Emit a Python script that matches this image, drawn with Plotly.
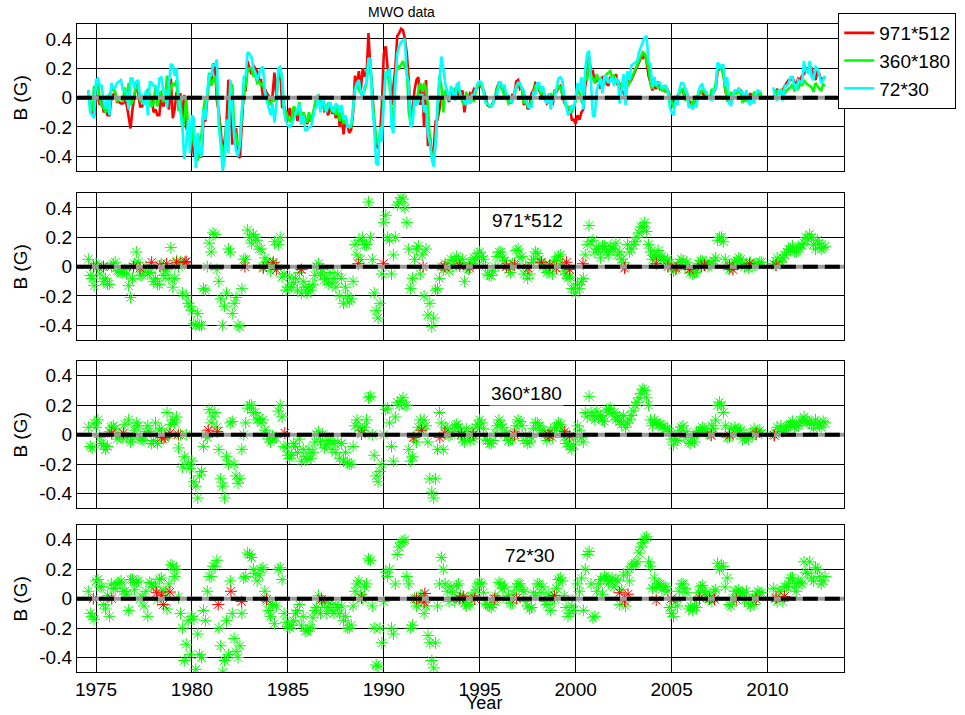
import plotly.graph_objects as go

# ---------------- data ----------------
# readings at t = 1974.6, 1974.8, 1975.0, ... 2013.0 (step 0.2)
years_a = [round(1974.6 + 0.2 * i, 1) for i in range(193)]
# readings at t = 1974.7, 1974.9, 1975.1, ... 2012.9 (step 0.2)
years_b = [round(1974.7 + 0.2 * i, 1) for i in range(192)]

b_971_a = [
    0.05, -0.08,
    0.02, -0.05, -0.10, -0.12, 0.00,
    0.03, -0.03, -0.04, -0.05, -0.21,
    0.02, 0.03, -0.06, 0.00, -0.04,
    -0.10, -0.12, 0.02, -0.03, -0.08,
    -0.14, 0.04, 0.03, 0.02, -0.25,
    -0.30, -0.40, -0.40, -0.15, 0.00,
    0.10, 0.22, -0.10, -0.40, -0.18,
    0.10, -0.25, -0.40, -0.15, 0.05,
    0.20, 0.22, 0.18, 0.12, 0.06,
    0.01, 0.02, 0.01, 0.20, -0.05,
    -0.14, -0.14, -0.08, -0.04, -0.10,
    -0.18, -0.16, -0.06, 0.02, -0.02,
    -0.08, -0.04, -0.08, -0.05, -0.08,
    -0.14, -0.24, -0.10, 0.08, 0.05,
    0.15, 0.44, 0.05, -0.30, -0.25,
    0.30, 0.20, -0.05, 0.20, 0.44,
    0.46, 0.30, -0.15, 0.05, 0.14,
    0.08, 0.12, -0.25, -0.35, -0.15,
    0.00, 0.02, -0.03, 0.00, 0.07,
    0.02, -0.10, -0.02, 0.02, 0.05,
    0.10, 0.05, -0.05, -0.06, 0.00,
    0.10, 0.06, 0.02, -0.04, 0.02,
    0.12, 0.07, 0.00, -0.05, 0.05,
    0.09, 0.02, 0.01, -0.03, -0.05,
    0.04, 0.08, -0.03, -0.08, -0.15,
    -0.18, -0.15, -0.08, 0.15, 0.17,
    0.10, 0.12, 0.14, 0.10, 0.14,
    0.12, 0.08, 0.05, 0.00, 0.10,
    0.15, 0.20, 0.27, 0.30, 0.15,
    0.05, 0.06, 0.06, 0.05, 0.05,
    0.00, -0.02, 0.03, 0.04, 0.03,
    -0.04, -0.04, 0.02, 0.04, 0.03,
    0.01, 0.04, 0.18, 0.20, 0.05,
    -0.02, 0.01, 0.04, 0.05, 0.00,
    -0.01, 0.00, 0.02, 0.03, None,
    None, None, 0.01, 0.04, 0.06,
    0.10, 0.12, 0.10, 0.13, 0.15,
    0.20, 0.22, 0.15, 0.18, 0.12,
    0.14,
]
b_971_b = [
    -0.06, -0.13,
    0.00, 0.00, -0.08, -0.12, 0.02,
    -0.03, -0.04, -0.02, -0.13, -0.08,
    0.10, -0.06, -0.03, -0.05, -0.01,
    -0.08, -0.12, -0.06, -0.02, 0.13,
    -0.08, 0.00, -0.18, -0.20, -0.27,
    -0.39, -0.32, -0.40, -0.16, 0.16,
    0.23, -0.02, -0.22, -0.27, 0.12,
    -0.32, -0.21, -0.41, 0.05, 0.25,
    0.16, 0.20, 0.12, 0.00, 0.03,
    -0.03, 0.17, 0.15, -0.07, -0.16,
    -0.07, -0.11, -0.16, -0.18, -0.14,
    -0.14, -0.12, 0.00, -0.05, -0.09,
    -0.12, -0.11, -0.14, -0.20, -0.25,
    -0.20, -0.22, 0.15, 0.18, 0.20,
    0.15, 0.20, -0.18, -0.35, -0.05,
    0.35, 0.18, 0.08, 0.42, 0.47,
    0.40, 0.12, -0.08, 0.12, -0.05,
    -0.20, -0.33, -0.41, -0.16, -0.08,
    -0.02, 0.01, 0.05, 0.04, 0.02,
    0.05, -0.01, 0.03, 0.06, 0.09,
    0.07, 0.00, -0.06, -0.03, 0.07,
    0.10, 0.04, -0.02, 0.02, 0.11,
    0.06, -0.05, -0.08, 0.03, 0.10,
    0.05, 0.00, -0.04, 0.01, 0.04,
    0.07, 0.02, -0.05, -0.07, -0.15,
    -0.12, -0.10, 0.08, 0.28, 0.18,
    0.12, 0.06, 0.14, 0.08, 0.12,
    0.16, 0.10, 0.03, 0.15, 0.12,
    0.17, 0.23, 0.27, 0.24, 0.10,
    0.08, 0.11, 0.07, 0.04, 0.02,
    -0.03, 0.01, 0.05, 0.00, -0.02,
    -0.05, -0.03, 0.04, 0.01, 0.00,
    0.02, 0.06, 0.20, 0.17, 0.00,
    -0.01, 0.03, 0.06, 0.02, 0.01,
    0.03, 0.01, 0.02, 0.03, None,
    None, 0.02, 0.06, 0.03, 0.08,
    0.12, 0.14, 0.10, 0.12, 0.16,
    0.19, 0.20, 0.12, 0.16, 0.13,
]

b_360_a = [
    0.05, -0.09,
    0.05, -0.02, -0.07, -0.08, 0.05,
    0.04, 0.00, -0.02, -0.02, -0.05,
    0.03, 0.06, -0.03, 0.02, 0.02,
    -0.04, -0.06, 0.04, -0.01, 0.00,
    0.10, 0.12, 0.00, -0.15, -0.20,
    -0.18, -0.35, -0.28, -0.08, -0.02,
    0.08, 0.15, -0.10, -0.35, -0.15,
    0.08, -0.20, -0.33, -0.10, 0.08,
    0.20, 0.15, 0.10, 0.08, 0.03,
    -0.03, -0.01, -0.02, 0.20, -0.08,
    -0.14, -0.14, -0.08, -0.03, -0.10,
    -0.17, -0.16, -0.05, 0.02, 0.00,
    -0.07, -0.04, -0.06, -0.05, -0.06,
    -0.12, -0.20, -0.08, 0.10, 0.03,
    0.05, 0.25, 0.00, -0.28, -0.25,
    0.00, 0.18, -0.08, 0.12, 0.20,
    0.25, 0.20, -0.18, -0.02, 0.05,
    0.04, 0.06, -0.30, -0.43, -0.10,
    0.08, 0.05, -0.01, 0.02, 0.07,
    0.02, -0.05, -0.01, 0.02, 0.05,
    0.10, 0.04, -0.04, -0.06, 0.01,
    0.10, 0.05, 0.01, -0.03, 0.02,
    0.10, 0.06, 0.00, -0.05, 0.04,
    0.08, 0.03, 0.00, 0.00, -0.02,
    0.05, 0.07, -0.02, -0.06, -0.10,
    -0.02, 0.03, -0.05, 0.12, 0.15,
    0.10, 0.12, 0.10, 0.16, 0.18,
    0.15, 0.12, 0.07, 0.05, 0.10,
    0.16, 0.22, 0.28, 0.30, 0.20,
    0.06, 0.08, 0.07, 0.06, 0.04,
    -0.03, -0.03, 0.03, 0.06, 0.02,
    -0.06, -0.05, 0.02, 0.05, 0.02,
    0.00, 0.04, 0.20, 0.20, 0.06,
    -0.02, 0.00, 0.03, 0.03, -0.02,
    -0.03, -0.01, 0.02, 0.03, None,
    None, None, 0.01, 0.02, 0.02,
    0.05, 0.07, 0.05, 0.06, 0.08,
    0.10, 0.08, 0.04, 0.08, 0.05,
    0.08,
]
b_360_b = [
    -0.08, 0.08,
    0.10, -0.06, -0.10, 0.02, 0.06,
    -0.03, -0.01, 0.07, 0.10, -0.03,
    0.08, -0.02, -0.04, 0.06, -0.06,
    0.08, 0.03, -0.03, 0.15, 0.07,
    0.08, -0.09, -0.22, 0.00, -0.23,
    -0.32, -0.43, -0.25, 0.00, 0.17,
    0.12, 0.05, -0.30, -0.43, -0.20,
    0.09, -0.28, -0.30, 0.00, 0.18,
    0.20, 0.15, 0.11, 0.10, 0.00,
    -0.05, -0.02, 0.16, 0.12, -0.09,
    -0.16, -0.06, -0.12, -0.18, -0.15,
    -0.10, -0.12, 0.00, -0.05, -0.09,
    -0.04, -0.10, -0.12, -0.16, -0.18,
    -0.19, -0.20, 0.06, 0.05, 0.03,
    0.10, 0.26, -0.14, -0.32, -0.20,
    0.17, 0.08, -0.18, 0.22, 0.23,
    0.20, -0.10, -0.15, -0.05, 0.10,
    0.10, -0.05, -0.39, -0.30, 0.15,
    -0.10, 0.04, 0.00, 0.06, 0.05,
    -0.03, 0.04, -0.04, -0.03, 0.07,
    0.08, -0.03, -0.06, -0.04, 0.06,
    0.07, 0.00, -0.04, -0.03, 0.06,
    0.09, -0.04, -0.06, -0.02, 0.08,
    0.06, 0.03, -0.04, 0.03, 0.05,
    0.08, 0.03, -0.06, -0.08, -0.07,
    0.06, -0.02, 0.15, 0.26, 0.13,
    0.16, 0.13, 0.09, 0.17, 0.14,
    0.10, 0.09, 0.13, 0.08, 0.13,
    0.20, 0.25, 0.31, 0.25, 0.10,
    0.10, 0.07, 0.05, 0.04, 0.02,
    -0.07, -0.04, 0.05, -0.02, -0.05,
    -0.02, 0.01, 0.03, 0.04, 0.01,
    0.06, 0.10, 0.22, 0.15, -0.02,
    0.04, 0.05, 0.04, -0.03, -0.02,
    0.01, 0.04, 0.02, 0.01, None,
    None, 0.00, 0.05, 0.06, 0.03,
    0.06, 0.09, 0.06, 0.10, 0.12,
    0.09, 0.07, 0.10, 0.06, 0.09,
]

b_72_a = [
    0.05, -0.12,
    0.12, 0.08, -0.04, 0.02, 0.10,
    0.07, 0.11, 0.05, 0.03, 0.13,
    0.06, 0.12, 0.01, 0.05, 0.11,
    0.08, -0.01, 0.14, 0.05, 0.10,
    0.22, 0.20, -0.10, -0.42, -0.15,
    -0.12, -0.48, -0.38, -0.08, 0.05,
    0.15, 0.22, -0.20, -0.50, -0.15,
    0.12, -0.27, -0.40, -0.10, 0.15,
    0.30, 0.20, 0.12, 0.20, 0.05,
    -0.08, -0.04, -0.05, 0.21, -0.10,
    -0.19, -0.18, -0.10, -0.04, -0.12,
    -0.22, -0.20, -0.08, 0.02, -0.02,
    -0.10, -0.03, -0.10, -0.06, -0.05,
    -0.12, -0.20, -0.05, 0.10, 0.03,
    0.08, 0.27, -0.05, -0.45, -0.20,
    -0.02, 0.15, -0.20, 0.10, 0.35,
    0.39, 0.15, -0.20, 0.00, -0.03,
    0.02, -0.05, -0.30, -0.47, -0.05,
    0.28, 0.10, -0.02, 0.04, 0.09,
    0.02, -0.03, 0.00, 0.02, 0.06,
    0.11, 0.04, -0.04, -0.06, 0.02,
    0.11, 0.07, 0.00, -0.03, 0.03,
    0.10, 0.06, -0.02, -0.07, 0.04,
    0.10, 0.04, -0.02, 0.03, -0.01,
    0.07, 0.14, 0.02, -0.12, -0.05,
    0.00, 0.05, -0.08, 0.30, 0.10,
    -0.12, 0.10, 0.03, 0.14, 0.12,
    0.08, 0.12, 0.06, -0.05, 0.12,
    0.23, 0.25, 0.35, 0.41, 0.25,
    0.07, 0.08, 0.10, 0.08, 0.05,
    -0.10, -0.02, 0.05, 0.10, 0.04,
    -0.05, -0.05, 0.04, 0.09, 0.04,
    0.00, 0.05, 0.24, 0.22, 0.08,
    -0.04, 0.00, 0.05, 0.04, -0.01,
    -0.03, 0.00, 0.03, 0.04, None,
    None, None, 0.00, 0.05, -0.02,
    0.08, 0.14, 0.08, 0.12, 0.10,
    0.18, 0.25, 0.12, 0.20, 0.10,
    0.15,
]
b_72_b = [
    -0.10, -0.14,
    0.13, 0.08, -0.07, -0.12, 0.07,
    0.10, 0.12, 0.05, -0.08, 0.13,
    0.11, 0.00, -0.05, -0.12, 0.10,
    0.08, 0.13, 0.05, -0.07, 0.23,
    0.15, 0.01, -0.20, -0.31, -0.38,
    -0.14, -0.24, -0.40, -0.15, 0.15,
    0.22, 0.26, -0.32, -0.42, -0.38,
    -0.10, -0.36, -0.32, 0.14, 0.31,
    0.28, 0.17, 0.16, 0.21, -0.02,
    -0.12, -0.17, 0.20, 0.13, -0.16,
    -0.20, -0.15, -0.08, -0.18, -0.22,
    -0.20, -0.13, -0.06, -0.10, -0.03,
    -0.06, -0.08, -0.04, -0.10, -0.15,
    -0.20, -0.18, 0.05, 0.12, 0.00,
    0.10, 0.26, -0.20, -0.46, -0.30,
    0.18, 0.20, -0.24, 0.30, 0.38,
    0.40, 0.10, -0.18, -0.05, 0.02,
    -0.10, -0.25, -0.42, -0.30, 0.10,
    0.20, 0.05, 0.08, -0.02, 0.10,
    0.00, -0.05, -0.04, 0.02, 0.10,
    0.10, -0.03, -0.05, -0.04, 0.00,
    0.10, 0.08, 0.02, -0.03, 0.08,
    0.10, 0.05, -0.05, -0.06, 0.02,
    0.10, 0.08, -0.04, -0.08, 0.00,
    0.13, 0.12, -0.06, -0.10, -0.08,
    0.10, 0.14, 0.20, 0.32, -0.13,
    0.05, 0.13, 0.15, 0.10, 0.14,
    0.13, -0.04, 0.16, 0.18, 0.22,
    0.24, 0.31, 0.38, 0.42, 0.22,
    0.14, 0.10, 0.06, 0.08, -0.06,
    -0.12, -0.05, 0.10, 0.07, -0.07,
    -0.08, -0.06, 0.08, 0.05, 0.00,
    -0.02, 0.06, 0.20, 0.22, 0.14,
    -0.05, 0.05, 0.06, 0.04, 0.05,
    -0.05, -0.04, 0.05, 0.04, None,
    None, 0.07, -0.02, 0.05, 0.08,
    0.10, 0.14, 0.05, 0.11, 0.25,
    0.17, 0.14, 0.21, 0.15, 0.12,
]

# red-flagged points in each scatter panel
red971_t = [1974.86, 1975.39, 1976.95, 1977.29, 1977.9, 1978.33, 1978.68, 1979.2, 1979.64, 1979.7,
            1982.76, 1983.72, 1984.24, 1984.4, 1985.71, 1988.67, 1989.97, 1992.05, 1993.18, 1993.96,
            1994.48, 1996.39, 1996.82, 1997.52, 1998.21, 1998.65, 1998.99, 1999.52, 1999.69, 2000.38,
            2002.55, 2004.2, 2004.81, 2005.24, 2005.94, 2006.55, 2006.72, 2008.02, 2008.2, 2009.06, 2010.45]
red971_v = [0.0, 0.0, 0.0, -0.01, 0.03, 0.005, 0.02, 0.03, 0.03, 0.035,
            0.0, -0.01, 0.03, -0.02, -0.02, 0.02, 0.02, 0.0, 0.0, 0.005,
            -0.01, 0.0, 0.01, -0.01, 0.03, 0.01, -0.01, 0.03, -0.02, 0.02,
            -0.01, 0.02, 0.0, -0.01, -0.02, 0.0, 0.01, 0.005, -0.02, 0.02, 0.01]

red360_t = [1975.82, 1976.43, 1978.42, 1978.59, 1978.85, 1979.29, 1980.85, 1981.32, 1984.84, 1988.84,
            1991.53, 1991.96, 1992.92, 1993.18, 1994.05, 1994.66, 1996.82, 1998.56, 1998.65, 1999.43,
            1999.69, 2007.07, 2008.02, 2009.41, 2010.36]
red360_v = [0.01, 0.01, -0.02, -0.02, 0.01, 0.0, 0.03, 0.02, 0.01, 0.005,
            -0.02, 0.03, -0.02, 0.01, 0.0, 0.0, 0.0, 0.0, -0.01, 0.02,
            -0.01, -0.005, -0.005, 0.005, -0.005]

red72_t = [1974.86, 1975.82, 1978.16, 1978.42, 1978.51, 1978.85, 1981.37, 1982.03, 1982.59, 1983.89,
           1986.76, 1988.84, 1991.7, 1992.14, 1992.1, 1993.96, 1994.14, 1994.74, 1995.78, 1996.91,
           1998.9, 2002.29, 2002.55, 2002.73, 2004.2, 2004.98, 2006.46, 2006.98, 2007.24, 2008.37,
           2009.41, 2010.45, 2010.89]
red72_v = [0.0, 0.0, 0.04, 0.02, -0.04, 0.045, -0.04, 0.05, -0.02, -0.005,
           -0.005, 0.005, 0.0, 0.035, -0.023, 0.0, 0.015, 0.0, 0.0, 0.0,
           0.02, 0.04, -0.015, 0.03, -0.01, 0.0, 0.005, 0.0, -0.005, -0.005,
           -0.005, 0.005, 0.015]

year_ticks = [1975, 1980, 1985, 1990, 1995, 2000, 2005, 2010]
b_ticks = [-0.4, -0.2, 0, 0.2, 0.4]
b_ticktext = ["-0.4", "-0.2", "0", "0.2", "0.4"]
series_names = ["971*512", "360*180", "72*30"]


def merge(ta, va, tb, vb):
    """Put the two sets of readings in time order."""
    pts = sorted(zip(ta + tb, va + vb), key=lambda p: p[0])
    return [p[0] for p in pts], [p[1] for p in pts]


t971, v971 = merge(years_a, b_971_a, years_b, b_971_b)
t360, v360 = merge(years_a, b_360_a, years_b, b_360_b)
t72, v72 = merge(years_a, b_72_a, years_b, b_72_b)

# ---------------- layout helpers ----------------
W, H = 965, 715
FONT = "Liberation Sans, Arial, sans-serif"
xdom = [75 / W, 844 / W]
panels_px = [(24.3, 171), (193.3, 340), (361, 508.3), (525, 672.3)]
ydoms = [[1 - b / H, 1 - t / H] for t, b in panels_px]

fig = go.Figure()
RED, GREEN, CYAN = "#ff0000", "#00ff00", "#00ffff"

# panel 1: lines
for (tt, vv), col, name in [((t971, v971), RED, series_names[0]),
                            ((t360, v360), GREEN, series_names[1]),
                            ((t72, v72), CYAN, series_names[2])]:
    fig.add_trace(go.Scatter(x=tt, y=vv, mode="lines", name=name,
                             line=dict(color=col, width=2.6), connectgaps=False,
                             xaxis="x", yaxis="y"))

# panels 2-4: stars
scat = [((t971, v971), red971_t, red971_v), ((t360, v360), red360_t, red360_v), ((t72, v72), red72_t, red72_v)]
for k, ((tt, vv), rt, rv) in enumerate(scat):
    ax = str(k + 2)
    fig.add_trace(go.Scatter(x=tt, y=vv, mode="markers", showlegend=False,
                             marker=dict(symbol="asterisk-open", size=10, color=GREEN,
                                         line=dict(color=GREEN, width=1)),
                             xaxis="x" + ax, yaxis="y" + ax))
    fig.add_trace(go.Scatter(x=rt, y=rv, mode="markers", showlegend=False,
                             marker=dict(symbol="asterisk-open", size=10, color=RED,
                                         line=dict(color=RED, width=1)),
                             xaxis="x" + ax, yaxis="y" + ax))

# zero reference lines
shapes = []
for k in range(4):
    suf = "" if k == 0 else str(k + 1)
    shapes.append(dict(type="line", xref="x" + suf, yref="y" + suf, x0=1974, x1=2014, y0=0, y1=0,
                       line=dict(color="#9a9a9a", width=4), layer="above"))
    shapes.append(dict(type="line", xref="x" + suf, yref="y" + suf, x0=1974, x1=2014, y0=0, y1=0,
                       line=dict(color="black", width=4, dash="15px,7px"), layer="above"))

axis_common = dict(showline=True, linecolor="black", linewidth=1, mirror=True,
                   showgrid=True, gridcolor="black", gridwidth=1, zeroline=False,
                   ticks="", tickfont=dict(family=FONT, size=19, color="black"))

layout = dict(width=W, height=H, autosize=False, margin=dict(l=0, r=0, t=0, b=0),
              plot_bgcolor="white", paper_bgcolor="white", shapes=shapes,
              font=dict(family=FONT, color="black"),
              legend=dict(x=838 / W, y=1 - 13 / H, xanchor="left", yanchor="top",
                          bgcolor="white", bordercolor="black", borderwidth=1,
                          font=dict(family=FONT, size=19, color="black"),
                          tracegroupgap=0, itemwidth=30,
                          entrywidth=88, entrywidthmode="pixels"))

for k in range(4):
    suf = "" if k == 0 else str(k + 1)
    layout["xaxis" + suf] = dict(axis_common, domain=xdom, range=[1974, 2014], tickvals=year_ticks,
                                 showticklabels=(k == 3), anchor="y" + suf)
    layout["yaxis" + suf] = dict(axis_common, domain=ydoms[k], range=[-0.5, 0.5], tickvals=b_ticks,
                                 ticktext=b_ticktext, anchor="x" + suf)

fig.update_layout(**layout)

ann = []
for k in range(4):
    t, b = panels_px[k]
    ann.append(dict(text="B (G)", xref="paper", yref="paper", x=19 / W, y=1 - (t + b) / 2 / H,
                    textangle=-90, showarrow=False, font=dict(family=FONT, size=19, color="black"),
                    xanchor="center", yanchor="middle"))
ann.append(dict(text="Year", xref="paper", yref="paper", x=483 / W, y=0, showarrow=False,
                font=dict(family=FONT, size=18, color="black"), xanchor="center", yanchor="bottom",
                yshift=0))
ann.append(dict(text="MWO data", xref="paper", yref="paper", x=400 / W, y=1 - 12 / H, showarrow=False,
                font=dict(family=FONT, size=14, color="black"), xanchor="center", yanchor="middle"))
for name, cx, cy in [(series_names[0], 527, 220), (series_names[1], 526, 393), (series_names[2], 529, 555)]:
    ann.append(dict(text=name, xref="paper", yref="paper", x=cx / W, y=1 - cy / H, showarrow=False,
                    font=dict(family=FONT, size=19, color="black"), xanchor="center", yanchor="middle",
                    bgcolor="white"))
fig.update_layout(annotations=ann)

fig.write_html("out.html")
